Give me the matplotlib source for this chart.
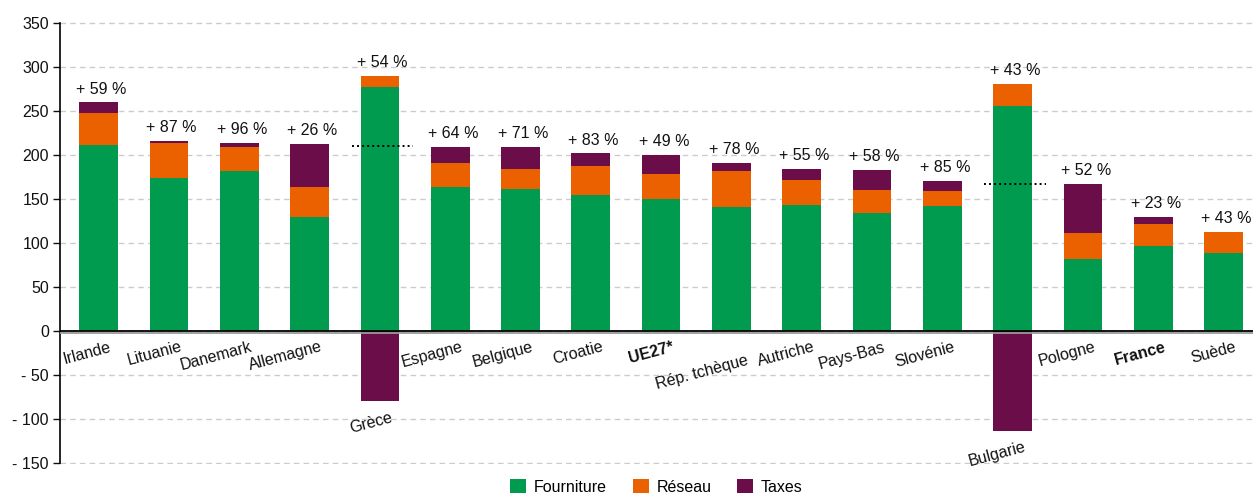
import matplotlib
matplotlib.use("Agg")
import matplotlib.pyplot as plt
import matplotlib.patheffects as pe
import numpy as np

plt.rcParams['font.family'] = ['Liberation Sans', 'DejaVu Sans']

# ---- data ----
pays = ["Irlande", "Lituanie", "Danemark", "Allemagne", "Grèce", "Espagne", "Belgique",
        "Croatie", "UE27*", "Rép. tchèque", "Autriche", "Pays-Bas", "Slovénie", "Bulgarie",
        "Pologne", "France", "Suède"]
fourniture = [211, 174, 182, 129, 277, 164, 161, 155, 150, 141, 143, 134, 142, 256, 82, 97, 89]
reseau = [37, 40, 27, 35, 13, 27, 23, 33, 28, 41, 29, 26, 17, 25, 29, 25, 23]
taxes = [12, 2, 5, 49, -80, 18, 25, 14, 22, 9, 12, 23, 11.5, -114, 56, 8, 1]
hausse = [59, 87, 96, 26, 54, 64, 71, 83, 49, 78, 55, 58, 85, 43, 52, 23, 43]
gras = ["UE27*", "France"]

C_F = "#009B4F"
C_R = "#EB6100"
C_T = "#6A0D48"
FS = 11.5

fourniture = np.array(fourniture, dtype=float)
reseau = np.array(reseau, dtype=float)
taxes = np.array(taxes, dtype=float)
x = np.arange(len(pays))
w = 0.55

fig = plt.figure(figsize=(12.53, 4.97), dpi=100)
ax = fig.add_axes([60 / 1253, 33 / 497, 1193 / 1253, 442 / 497])

# stacked bars
ax.bar(x, fourniture, w, color=C_F, label="Fourniture", zorder=3)
ax.bar(x, reseau, w, bottom=fourniture, color=C_R, label="Réseau", zorder=3)
tax_bottom = np.where(taxes >= 0, fourniture + reseau, 0)
ax.bar(x, taxes, w, bottom=tax_bottom, color=C_T, label="Taxes", zorder=3)

# net total marker where taxes are negative
for i in range(len(pays)):
    if taxes[i] < 0:
        net = fourniture[i] + reseau[i] + taxes[i]
        ax.hlines(net, x[i] - 0.40, x[i] + 0.47, colors="black", linestyles=(0, (1, 1.6)),
                  lw=1.4, zorder=5)

# percentage labels
for i in range(len(pays)):
    top = fourniture[i] + reseau[i] + max(taxes[i], 0)
    ax.annotate("+ %d %%" % hausse[i], (x[i], top), xytext=(2, 4), textcoords="offset points",
                ha="center", va="bottom", fontsize=FS, color="#111111")

# category labels
for i, name in enumerate(pays):
    y0 = min(0, taxes[i])
    label = name
    if name == "Rép. tchèque":
        label = "\n" + name
    ax.annotate(label, (x[i] + 0.15, y0), xytext=(0, -6), textcoords="offset points",
                ha="right", va="top", rotation=15, rotation_mode="anchor", fontsize=FS,
                fontweight="bold" if name in gras else "normal", color="#111111",
                linespacing=0.95)

# zero line
ax.axhline(0, color="black", lw=1.3, zorder=4,
           path_effects=[pe.SimpleLineShadow(offset=(0, -1.5), shadow_color="#999999", alpha=1),
                         pe.Normal()])

ax.set_ylim(-151, 351)
ax.set_xlim(-0.55, 16.42)
ticks = np.arange(-150, 351, 50)
ax.set_yticks(ticks)
ax.set_yticklabels([("- %d" % -t) if t < 0 else str(t) for t in ticks], fontsize=FS)
ax.yaxis.grid(True, color="#cccccc", linestyle=(0, (4, 3)), lw=1)
ax.set_axisbelow(True)
ax.set_xticks([])
for s in ["top", "right", "bottom"]:
    ax.spines[s].set_visible(False)
ax.spines["left"].set_color("black")
ax.spines["left"].set_linewidth(1.2)
ax.spines["left"].set_bounds(-150, 350)
ax.tick_params(axis="y", length=5, width=1, direction="out", pad=3, colors="#111111")

leg = ax.legend(loc="upper center", bbox_to_anchor=(0.5, -0.012), ncol=3, frameon=False,
                fontsize=FS, handlelength=1.0, handleheight=1.0, columnspacing=1.6,
                handletextpad=0.5, borderpad=0.1)

fig.savefig("out.png", dpi=100)
